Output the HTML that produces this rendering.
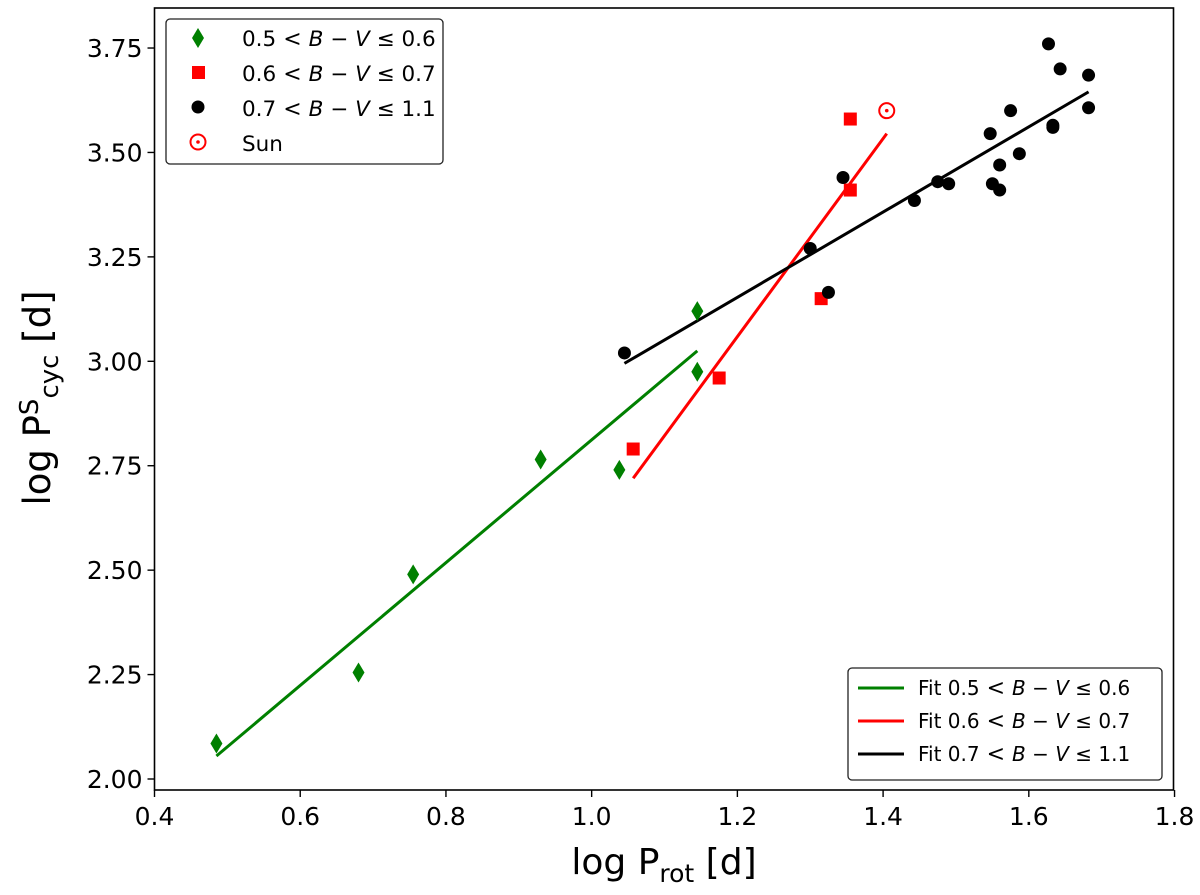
<!DOCTYPE html>
<html><head><meta charset="utf-8"><style>
body{margin:0;background:#fff}
svg{display:block;font-family:"DejaVu Sans","Liberation Sans",sans-serif}
</style></head><body>
<svg id="chart" width="1200" height="895" viewBox="0 0 1200 895">
<g id="plot"></g>
</svg>
<script>
const greenX=[0.485,0.68,0.755,0.93,1.038,1.145,1.145];
const greenY=[2.085,2.255,2.49,2.765,2.74,2.975,3.12];
const redX=[1.057,1.175,1.315,1.355,1.355];
const redY=[2.79,2.96,3.15,3.41,3.58];
const sunX=[1.405];
const sunY=[3.60];
const blackX=[1.045,1.30,1.325,1.345,1.443,1.475,1.49,1.547,1.55,1.56,1.56,1.575,1.587,1.627,1.633,1.633,1.643,1.682,1.682];
const blackY=[3.02,3.27,3.165,3.44,3.385,3.43,3.425,3.545,3.425,3.47,3.41,3.60,3.497,3.76,3.565,3.56,3.70,3.685,3.607];
const fitGreenX=[0.485,1.145], fitGreenY=[2.055,3.025];
const fitRedX=[1.057,1.405], fitRedY=[2.72,3.545];
const fitBlackX=[1.045,1.682], fitBlackY=[2.995,3.645];
const xTicks=[0.4,0.6,0.8,1.0,1.2,1.4,1.6,1.8];
const xTickLabels=["0.4","0.6","0.8","1.0","1.2","1.4","1.6","1.8"];
const yTicks=[2.0,2.25,2.5,2.75,3.0,3.25,3.5,3.75];
const yTickLabels=["2.00","2.25","2.50","2.75","3.00","3.25","3.50","3.75"];

const NS="http://www.w3.org/2000/svg";
const g=document.getElementById('plot');
const L=154.5,R=1173.5,T=8,B=790;
function sx(v){return 154.5+(v-0.4)*728.6;}
function sy(v){return 779-(v-2.0)*417.7;}
function mk(tag,attrs,parent){const e=document.createElementNS(NS,tag);for(const k in attrs)e.setAttribute(k,attrs[k]);(parent||g).appendChild(e);return e;}

let fr=mk('rect',{x:L,y:T,width:R-L,height:B-T,fill:'none',stroke:'#000','stroke-width':1.6});



xTicks.forEach((v,i)=>{
  const x=sx(v);
  let t=mk('line',{x1:x,x2:x,y1:B,y2:B+7,stroke:'#000','stroke-width':1.4});
  
  
  let l=mk('text',{x:x,y:B+35,'font-size':25,'text-anchor':'middle'});
  l.textContent=xTickLabels[i];
  
  
});
yTicks.forEach((v,i)=>{
  const y=sy(v);
  let t=mk('line',{x1:L-7,x2:L,y1:y,y2:y,stroke:'#000','stroke-width':1.4});
  
  
  let l=mk('text',{x:L-12,y:y+9,'font-size':25,'text-anchor':'end'});
  l.textContent=yTickLabels[i];
  
  
});

function fit(xs,ys,c,name){
  let e=mk('line',{x1:sx(xs[0]),y1:sy(ys[0]),x2:sx(xs[1]),y2:sy(ys[1]),stroke:c,'stroke-width':3});
  
  
}
fit(fitGreenX,fitGreenY,'#008000','fit-line-green');
fit(fitRedX,fitRedY,'#ff0000','fit-line-red');
fit(fitBlackX,fitBlackY,'#000','fit-line-black');

function diamond(x,y,parent){return mk('polygon',{points:`${x},${y-10} ${x+6},${y} ${x},${y+10} ${x-6},${y}`,fill:'#008000'},parent);}
greenX.forEach((v,i)=>{
  let e=diamond(sx(v),sy(greenY[i]));
  
  
});
redX.forEach((v,i)=>{
  let e=mk('rect',{x:sx(v)-6.5,y:sy(redY[i])-6.5,width:13,height:13,fill:'#ff0000'});
  
  
});
blackX.forEach((v,i)=>{
  let e=mk('circle',{cx:sx(v),cy:sy(blackY[i]),r:6.5,fill:'#000'});
  
  
});
sunX.forEach((v,i)=>{
  let e=mk('circle',{cx:sx(v),cy:sy(sunY[i]),r:7.5,fill:'none',stroke:'#ff0000','stroke-width':2});
  
  
  let d=mk('circle',{cx:sx(v),cy:sy(sunY[i]),r:1.8,fill:'#ff0000'});
  
  
});

let xt=mk('text',{x:664,y:874,'font-size':36,'text-anchor':'middle'});
xt.innerHTML='log P<tspan font-size="25" dy="8">rot</tspan><tspan dy="-8"> [d]</tspan>';


let yt=mk('text',{x:0,y:0,'font-size':37,'text-anchor':'middle',transform:'translate(50,398) rotate(-90)'});
yt.innerHTML='log P<tspan font-size="26" dy="-12">S</tspan><tspan font-size="26" dy="20">cyc</tspan><tspan dy="-8"> [d]</tspan>';



function bv(a,b){return `${a}<tspan font-size="22"> &lt; </tspan><tspan font-style="italic">B</tspan> − <tspan font-style="italic">V</tspan> ≤ ${b}`;}

let lg=mk('g',{});


mk('rect',{x:166,y:19,width:277,height:145,rx:4,fill:'#fff',stroke:'#222','stroke-width':1.3},lg);
const rows=[['0.5','0.6'],['0.6','0.7'],['0.7','1.1']];
let d1=diamond(198,38,lg);


let r1=mk('rect',{x:192,y:66,width:13,height:13,fill:'#ff0000'},lg);


let c1=mk('circle',{cx:198,cy:107,r:6.5,fill:'#000'},lg);


mk('circle',{cx:198,cy:142,r:7.5,fill:'none',stroke:'#ff0000','stroke-width':2},lg);
mk('circle',{cx:198,cy:142,r:1.8,fill:'#ff0000'},lg);
rows.forEach((r,i)=>{
  let t=mk('text',{x:242,y:46+i*35,'font-size':21.5},lg);
  t.innerHTML=bv(r[0],r[1]);
  
  
});
let st=mk('text',{x:242,y:151,'font-size':21.5},lg);
st.textContent='Sun';



let lg2=mk('g',{});


mk('rect',{x:848,y:668,width:314,height:112,rx:4,fill:'#fff',stroke:'#222','stroke-width':1.3},lg2);
const cols=['#008000','#ff0000','#000'];
rows.forEach((r,i)=>{
  const y=688+i*33;
  mk('line',{x1:858,x2:904,y1:y,y2:y,stroke:cols[i],'stroke-width':3},lg2);
  let t=mk('text',{x:918,y:y+7,'font-size':20},lg2);
  t.innerHTML='Fit '+bv(r[0],r[1]);
  
  
});
</script>
</body></html>
